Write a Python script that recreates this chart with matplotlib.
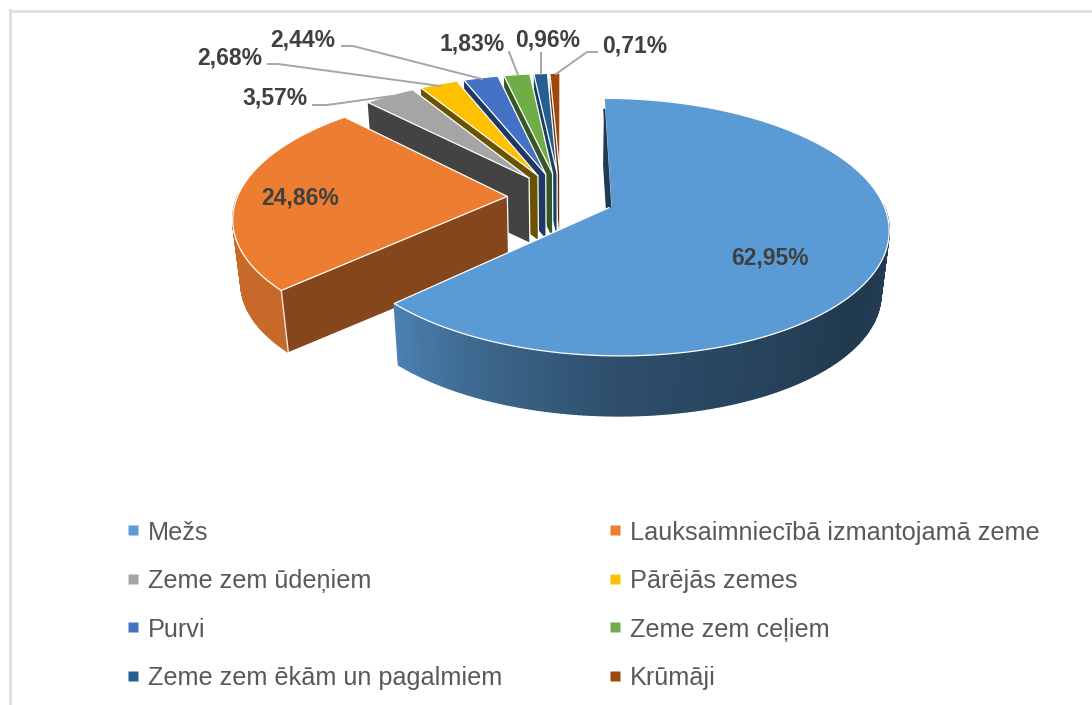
import numpy as np
import matplotlib
matplotlib.use('Agg')
import matplotlib.pyplot as plt
from matplotlib.patches import Polygon

# Datos del grafico
categories = ['Mežs', 'Lauksaimniecībā izmantojamā zeme', 'Zeme zem ūdeņiem', 'Pārējās zemes',
              'Purvi', 'Zeme zem ceļiem', 'Zeme zem ēkām un pagalmiem', 'Krūmāji']
shares = [62.95, 24.86, 3.57, 2.68, 2.44, 1.83, 0.96, 0.71]
pct_labels = ['62,95%', '24,86%', '3,57%', '2,68%', '2,44%', '1,83%', '0,96%', '0,71%']

top_colors = ['#5B9BD5', '#ED7D31', '#A5A5A5', '#FFC000', '#4472C4', '#70AD47', '#255E91', '#9E480E']
face_colors = ['#1F3A52', '#84461A', '#434343', '#6B5200', '#1F3864', '#375623', '#1A3F60', '#6B300A']

FAMILY = 'Liberation Sans'

# Proyeccion en pixeles
CX, CY = 561, 197
RX, RY = 270, 122.5
PERSP = 0.156
EXPLODE = 0.199
BOTTOM_CY = 261
BOTTOM_SCALE = 0.975


def project(u, v):
    w = 1 + PERSP * v
    return RX * u / w, -RY * v / w


def top_pt(u, v):
    x, y = project(u, v)
    return CX + x, CY + y


def bottom_pt(u, v):
    x, y = project(u, v)
    return CX + BOTTOM_SCALE * x, BOTTOM_CY + BOTTOM_SCALE * y


def shade(color, factor):
    rgb = np.array(matplotlib.colors.to_rgb(color))
    return tuple(rgb * factor)


fig = plt.figure(figsize=(10.92, 7.05), dpi=100)
ax = fig.add_axes([0, 0, 1, 1])
ax.set_xlim(0, 1092)
ax.set_ylim(705, 0)
ax.axis('off')

# Marco
ax.plot([10, 10], [10, 705], color='#DDDDDD', lw=2, zorder=1)
ax.plot([10, 1092], [11, 11], color='#DDDDDD', lw=2, zorder=1)

edges = np.concatenate([[0], np.cumsum(shares)]) / sum(shares) * 2 * np.pi
mids = (edges[:-1] + edges[1:]) / 2
offsets = [(EXPLODE * np.sin(m), EXPLODE * np.cos(m)) for m in mids]

z = 2
draw_order = [7, 6, 5, 4, 3, 2, 1, 0]
for i in draw_order:
    a0, a1 = edges[i], edges[i + 1]
    ou, ov = offsets[i]
    angles = np.linspace(a0, a1, max(8, int((a1 - a0) * 80)))
    us = ou + np.sin(angles)
    vs = ov + np.cos(angles)

    # Pared exterior, solo la parte que mira al frente
    for j in range(len(angles) - 1):
        mid_a = (angles[j] + angles[j + 1]) / 2
        if np.cos(mid_a) >= 0.02:
            continue
        factor = np.interp(np.degrees(mid_a), [90, 130, 180, 205, 228, 270], [0.40, 0.37, 0.50, 0.66, 0.84, 0.84])
        c = shade(top_colors[i], factor)
        quad = [top_pt(us[j], vs[j]), top_pt(us[j + 1], vs[j + 1]),
                bottom_pt(us[j + 1], vs[j + 1]), bottom_pt(us[j], vs[j])]
        ax.add_patch(Polygon(quad, closed=True, facecolor=c, edgecolor=c, lw=1.0, zorder=z))
    z += 1

    # Cara de corte
    face = [top_pt(ou, ov), top_pt(us[0], vs[0]), bottom_pt(us[0], vs[0]), bottom_pt(ou, ov)]
    ax.add_patch(Polygon(face, closed=True, facecolor=face_colors[i], edgecolor='none', zorder=z))
    xc, yc = zip(top_pt(ou, ov), bottom_pt(ou, ov))
    ax.plot(xc, yc, color='white', lw=0.9, zorder=z)
    if i == 1:
        xc, yc = zip(top_pt(us[0], vs[0]), bottom_pt(us[0], vs[0]))
        ax.plot(xc, yc, color='#F5E6DA', lw=1.0, zorder=z)
    z += 1

    # Cara superior
    top = [top_pt(ou, ov)] + [top_pt(u, v) for u, v in zip(us, vs)]
    ax.add_patch(Polygon(top, closed=True, facecolor=top_colors[i], edgecolor='white', lw=0.9, zorder=z))
    z += 1
    if i == 0:
        p0 = top_pt(ou, ov)
        p1 = top_pt(ou + 0.88 * np.sin(a0), ov + 0.88 * np.cos(a0))
        ax.plot([p0[0] - 0.6, p1[0] - 0.6], [p0[1], p1[1]], color=face_colors[0], lw=1.4, zorder=z)
        z += 1

# Etiquetas de porcentaje
label_pos = [(770, 265), (300, 205), (275, 105), (230, 65), (303, 47), (472, 51), (548, 47), (635, 52)]
leader_start = [None, None, (313, 105), (268, 64), (342, 46), (509, 52), (541, 53), (597, 52)]
leader_elbow = [None, None, (327, 105), (278, 64), (353, 46), None, None, (587, 52)]
leader_end = [None, None, (392, 96), (440, 86), (482, 79), (518, 75), (541, 74), (556, 74)]

for i, txt in enumerate(pct_labels):
    ax.text(label_pos[i][0], label_pos[i][1], txt, family=FAMILY, fontweight='bold', fontsize=16.5,
            color='#404040', ha='center', va='baseline', zorder=z + 2)
    if leader_start[i] is not None:
        pts = [p for p in (leader_start[i], leader_elbow[i], leader_end[i]) if p is not None]
        xs, ys = zip(*pts)
        ax.plot(xs, ys, color='#A6A6A6', lw=1.4, zorder=z + 1)

# Leyenda
legend_x = [(133, 148), (615, 630)]
legend_y = [530, 579, 627, 676]
legend_base = [540, 588, 637, 685]
for i, name in enumerate(categories):
    mx, tx = legend_x[i % 2]
    ax.plot([mx], [legend_y[i // 2]], marker='s', ms=7.4, color=top_colors[i], lw=0, mec='none', zorder=z)
    ax.text(tx, legend_base[i // 2], name, family=FAMILY, fontsize=18.2, color='#595959',
            ha='left', va='baseline', zorder=z)

fig.savefig('out.png', dpi=100)
